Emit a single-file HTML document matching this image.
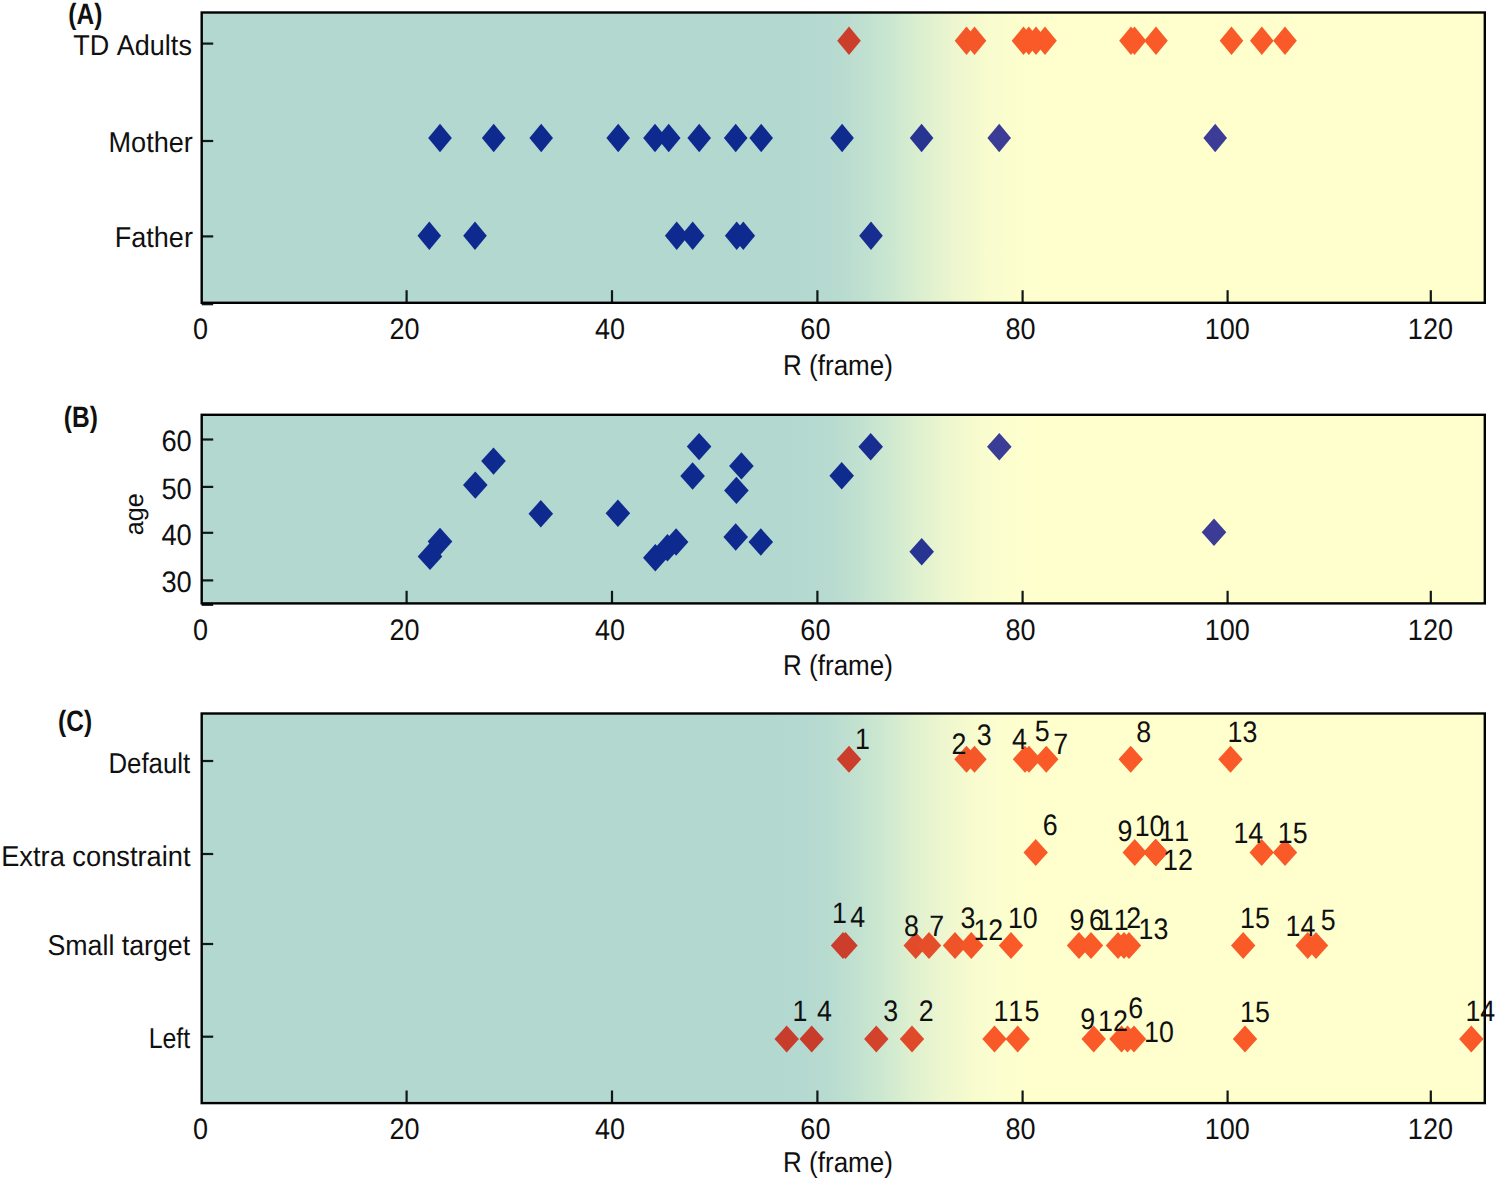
<!DOCTYPE html>
<html lang="en"><head><meta charset="utf-8"><title>Figure</title>
<style>html,body{margin:0;padding:0;background:#fff}body{width:1500px;height:1184px;overflow:hidden}svg{display:block}</style>
</head><body>
<svg width="1500" height="1184" viewBox="0 0 1500 1184" font-family='"Liberation Sans", sans-serif' font-size="26" fill="#101010" style="font-kerning:none;text-rendering:geometricPrecision">
<defs><linearGradient id="bgA" x1="0" y1="0" x2="1" y2="0"><stop offset="0.4468" stop-color="rgb(178, 216, 208)"/><stop offset="0.4780" stop-color="rgb(180, 217, 208)"/><stop offset="0.4975" stop-color="rgb(184, 219, 208)"/><stop offset="0.5170" stop-color="rgb(192, 224, 208)"/><stop offset="0.5403" stop-color="rgb(205, 232, 208)"/><stop offset="0.5637" stop-color="rgb(222, 240, 207)"/><stop offset="0.5871" stop-color="rgb(237, 246, 207)"/><stop offset="0.6105" stop-color="rgb(247, 251, 206)"/><stop offset="0.6339" stop-color="rgb(252, 254, 206)"/><stop offset="0.6572" stop-color="rgb(255, 255, 206)"/></linearGradient><linearGradient id="bgB" x1="0" y1="0" x2="1" y2="0"><stop offset="0.4398" stop-color="rgb(178, 216, 208)"/><stop offset="0.4710" stop-color="rgb(180, 217, 208)"/><stop offset="0.4905" stop-color="rgb(184, 219, 208)"/><stop offset="0.5099" stop-color="rgb(192, 224, 208)"/><stop offset="0.5333" stop-color="rgb(205, 232, 208)"/><stop offset="0.5567" stop-color="rgb(222, 240, 207)"/><stop offset="0.5801" stop-color="rgb(237, 246, 207)"/><stop offset="0.6035" stop-color="rgb(247, 251, 206)"/><stop offset="0.6268" stop-color="rgb(252, 254, 206)"/><stop offset="0.6502" stop-color="rgb(255, 255, 206)"/></linearGradient><linearGradient id="bgC" x1="0" y1="0" x2="1" y2="0"><stop offset="0.4367" stop-color="rgb(178, 216, 208)"/><stop offset="0.4679" stop-color="rgb(180, 217, 208)"/><stop offset="0.4873" stop-color="rgb(184, 219, 208)"/><stop offset="0.5068" stop-color="rgb(192, 224, 208)"/><stop offset="0.5302" stop-color="rgb(205, 232, 208)"/><stop offset="0.5536" stop-color="rgb(222, 240, 207)"/><stop offset="0.5770" stop-color="rgb(237, 246, 207)"/><stop offset="0.6003" stop-color="rgb(247, 251, 206)"/><stop offset="0.6237" stop-color="rgb(252, 254, 206)"/><stop offset="0.6471" stop-color="rgb(255, 255, 206)"/></linearGradient></defs>
<rect x="201.7" y="12.5" width="1283.1" height="290.3" fill="url(#bgA)"/>
<text transform="translate(200.4,338.9) scale(1.04,1.14)" text-anchor="middle">0</text>
<line x1="406.6" y1="302.8" x2="406.6" y2="290.2" stroke="#101818" stroke-width="2.2"/>
<text transform="translate(404.6,338.9) scale(1.04,1.14)" text-anchor="middle">20</text>
<line x1="612.0" y1="302.8" x2="612.0" y2="290.2" stroke="#101818" stroke-width="2.2"/>
<text transform="translate(610.0,338.9) scale(1.04,1.14)" text-anchor="middle">40</text>
<line x1="817.4" y1="302.8" x2="817.4" y2="290.2" stroke="#101818" stroke-width="2.2"/>
<text transform="translate(815.4,338.9) scale(1.04,1.14)" text-anchor="middle">60</text>
<line x1="1022.6" y1="302.8" x2="1022.6" y2="290.2" stroke="#101818" stroke-width="2.2"/>
<text transform="translate(1020.6,338.9) scale(1.04,1.14)" text-anchor="middle">80</text>
<line x1="1227.6" y1="302.8" x2="1227.6" y2="290.2" stroke="#101818" stroke-width="2.2"/>
<text transform="translate(1227.2,338.9) scale(1.04,1.14)" text-anchor="middle">100</text>
<line x1="1430.8" y1="302.8" x2="1430.8" y2="290.2" stroke="#101818" stroke-width="2.2"/>
<text transform="translate(1430.4,338.9) scale(1.04,1.14)" text-anchor="middle">120</text>
<line x1="201.7" y1="43.6" x2="213.2" y2="43.6" stroke="#101818" stroke-width="2.2"/>
<text transform="translate(191.9,55.0) scale(1.039,1.1)" text-anchor="end">TD Adults</text>
<line x1="201.7" y1="141" x2="213.2" y2="141" stroke="#101818" stroke-width="2.2"/>
<text transform="translate(192.9,152.4) scale(1.043,1.1)" text-anchor="end">Mother</text>
<line x1="201.7" y1="236.4" x2="213.2" y2="236.4" stroke="#101818" stroke-width="2.2"/>
<text transform="translate(192.9,247.4) scale(1.04,1.1)" text-anchor="end">Father</text>
<line x1="201.7" y1="304.3" x2="213.2" y2="304.3" stroke="#101818" stroke-width="2"/>
<rect x="201.7" y="12.5" width="1283.1" height="290.3" fill="none" stroke="#000" stroke-width="2.4"/>
<text transform="translate(838.0,374.5) scale(1,1.1)" text-anchor="middle">R (frame)</text>
<text transform="translate(68.3,24.0) scale(1,1.2)" font-weight="bold" font-size="24.5">(A)</text>
<polygon points="849.0,26.6 860.8,40.8 849.0,55.0 837.2,40.8" fill="#cc3e2c"/>
<polygon points="966.5,26.6 978.3,40.8 966.5,55.0 954.7,40.8" fill="#f35629"/>
<polygon points="974.5,26.6 986.3,40.8 974.5,55.0 962.7,40.8" fill="#f55728"/>
<polygon points="1023.5,26.6 1035.3,40.8 1023.5,55.0 1011.7,40.8" fill="#fa5a28"/>
<polygon points="1028.8,26.6 1040.6,40.8 1028.8,55.0 1017.0,40.8" fill="#fa5a28"/>
<polygon points="1036.0,26.6 1047.8,40.8 1036.0,55.0 1024.2,40.8" fill="#fa5a28"/>
<polygon points="1045.0,26.6 1056.8,40.8 1045.0,55.0 1033.2,40.8" fill="#fa5a28"/>
<polygon points="1131.0,26.6 1142.8,40.8 1131.0,55.0 1119.2,40.8" fill="#fa5a28"/>
<polygon points="1134.5,26.6 1146.3,40.8 1134.5,55.0 1122.7,40.8" fill="#fa5a28"/>
<polygon points="1156.0,26.6 1167.8,40.8 1156.0,55.0 1144.2,40.8" fill="#fa5a28"/>
<polygon points="1231.5,26.6 1243.3,40.8 1231.5,55.0 1219.7,40.8" fill="#fa5a28"/>
<polygon points="1261.8,26.6 1273.6,40.8 1261.8,55.0 1250.0,40.8" fill="#fa5a28"/>
<polygon points="1285.0,26.6 1296.8,40.8 1285.0,55.0 1273.2,40.8" fill="#fa5a28"/>
<polygon points="440.0,123.8 451.8,138.0 440.0,152.2 428.2,138.0" fill="#0e2a8e"/>
<polygon points="493.7,123.8 505.5,138.0 493.7,152.2 481.9,138.0" fill="#0e2a8e"/>
<polygon points="541.2,123.8 553.0,138.0 541.2,152.2 529.4,138.0" fill="#0e2a8e"/>
<polygon points="618.2,123.8 630.0,138.0 618.2,152.2 606.4,138.0" fill="#0e2a8e"/>
<polygon points="655.0,123.8 666.8,138.0 655.0,152.2 643.2,138.0" fill="#0e2a8e"/>
<polygon points="668.7,123.8 680.5,138.0 668.7,152.2 656.9,138.0" fill="#0e2a8e"/>
<polygon points="699.2,123.8 711.0,138.0 699.2,152.2 687.4,138.0" fill="#0e2a8e"/>
<polygon points="735.7,123.8 747.5,138.0 735.7,152.2 723.9,138.0" fill="#0e2a8e"/>
<polygon points="761.2,123.8 773.0,138.0 761.2,152.2 749.4,138.0" fill="#0e2a8e"/>
<polygon points="842.1,123.8 853.9,138.0 842.1,152.2 830.3,138.0" fill="#102b8e"/>
<polygon points="921.6,123.8 933.4,138.0 921.6,152.2 909.8,138.0" fill="#273492"/>
<polygon points="999.2,123.8 1011.0,138.0 999.2,152.2 987.4,138.0" fill="#3b3c96"/>
<polygon points="1215.2,123.8 1227.0,138.0 1215.2,152.2 1203.4,138.0" fill="#3c3c96"/>
<polygon points="429.3,221.5 441.1,235.7 429.3,249.9 417.5,235.7" fill="#0e2a8e"/>
<polygon points="475.0,221.5 486.8,235.7 475.0,249.9 463.2,235.7" fill="#0e2a8e"/>
<polygon points="676.7,221.5 688.5,235.7 676.7,249.9 664.9,235.7" fill="#0e2a8e"/>
<polygon points="692.7,221.5 704.5,235.7 692.7,249.9 680.9,235.7" fill="#0e2a8e"/>
<polygon points="736.7,221.5 748.5,235.7 736.7,249.9 724.9,235.7" fill="#0e2a8e"/>
<polygon points="743.3,221.5 755.1,235.7 743.3,249.9 731.5,235.7" fill="#0e2a8e"/>
<polygon points="871.0,221.5 882.8,235.7 871.0,249.9 859.2,235.7" fill="#172d90"/>
<rect x="201.7" y="414.8" width="1283.1" height="188.59999999999997" fill="url(#bgB)"/>
<text transform="translate(200.4,639.5) scale(1.04,1.14)" text-anchor="middle">0</text>
<line x1="406.6" y1="603.4" x2="406.6" y2="590.8" stroke="#101818" stroke-width="2.2"/>
<text transform="translate(404.6,639.5) scale(1.04,1.14)" text-anchor="middle">20</text>
<line x1="612.0" y1="603.4" x2="612.0" y2="590.8" stroke="#101818" stroke-width="2.2"/>
<text transform="translate(610.0,639.5) scale(1.04,1.14)" text-anchor="middle">40</text>
<line x1="817.4" y1="603.4" x2="817.4" y2="590.8" stroke="#101818" stroke-width="2.2"/>
<text transform="translate(815.4,639.5) scale(1.04,1.14)" text-anchor="middle">60</text>
<line x1="1022.6" y1="603.4" x2="1022.6" y2="590.8" stroke="#101818" stroke-width="2.2"/>
<text transform="translate(1020.6,639.5) scale(1.04,1.14)" text-anchor="middle">80</text>
<line x1="1227.6" y1="603.4" x2="1227.6" y2="590.8" stroke="#101818" stroke-width="2.2"/>
<text transform="translate(1227.2,639.5) scale(1.04,1.14)" text-anchor="middle">100</text>
<line x1="1430.8" y1="603.4" x2="1430.8" y2="590.8" stroke="#101818" stroke-width="2.2"/>
<text transform="translate(1430.4,639.5) scale(1.04,1.14)" text-anchor="middle">120</text>
<line x1="201.7" y1="439.5" x2="213.2" y2="439.5" stroke="#101818" stroke-width="2.2"/>
<text transform="translate(191.8,451.0) scale(1.05,1.14)" text-anchor="end">60</text>
<line x1="201.7" y1="486.9" x2="213.2" y2="486.9" stroke="#101818" stroke-width="2.2"/>
<text transform="translate(191.8,498.8) scale(1.05,1.14)" text-anchor="end">50</text>
<line x1="201.7" y1="532.8" x2="213.2" y2="532.8" stroke="#101818" stroke-width="2.2"/>
<text transform="translate(191.8,544.5) scale(1.05,1.14)" text-anchor="end">40</text>
<line x1="201.7" y1="580.4" x2="213.2" y2="580.4" stroke="#101818" stroke-width="2.2"/>
<text transform="translate(191.8,591.6) scale(1.05,1.14)" text-anchor="end">30</text>
<line x1="201.7" y1="604.9" x2="213.2" y2="604.9" stroke="#101818" stroke-width="2"/>
<rect x="201.7" y="414.8" width="1283.1" height="188.59999999999997" fill="none" stroke="#000" stroke-width="2.4"/>
<text transform="translate(838.0,675.0) scale(1,1.1)" text-anchor="middle">R (frame)</text>
<text transform="translate(63.8,426.5) scale(1,1.2)" font-weight="bold" font-size="24.5">(B)</text>
<text transform="translate(143.2,514.3) rotate(-90) scale(0.97,1.0)" text-anchor="middle">age</text>
<polygon points="430.0,542.7 442.3,556.4 430.0,570.1 417.7,556.4" fill="#0e2a8e"/>
<polygon points="440.0,527.8 452.3,541.5 440.0,555.2 427.7,541.5" fill="#0e2a8e"/>
<polygon points="475.3,471.4 487.6,485.1 475.3,498.8 463.0,485.1" fill="#0e2a8e"/>
<polygon points="493.5,447.4 505.8,461.1 493.5,474.8 481.2,461.1" fill="#0e2a8e"/>
<polygon points="540.8,500.1 553.1,513.8 540.8,527.5 528.5,513.8" fill="#0e2a8e"/>
<polygon points="617.9,499.6 630.2,513.3 617.9,527.0 605.6,513.3" fill="#0e2a8e"/>
<polygon points="655.3,544.1 667.6,557.8 655.3,571.5 643.0,557.8" fill="#0e2a8e"/>
<polygon points="667.5,534.1 679.8,547.8 667.5,561.5 655.2,547.8" fill="#0e2a8e"/>
<polygon points="676.1,528.3 688.4,542.0 676.1,555.7 663.8,542.0" fill="#0e2a8e"/>
<polygon points="692.6,462.3 704.9,476.0 692.6,489.7 680.3,476.0" fill="#0e2a8e"/>
<polygon points="699.1,432.9 711.4,446.6 699.1,460.3 686.8,446.6" fill="#0e2a8e"/>
<polygon points="741.4,452.2 753.7,465.9 741.4,479.6 729.1,465.9" fill="#0e2a8e"/>
<polygon points="736.4,476.7 748.7,490.4 736.4,504.1 724.1,490.4" fill="#0e2a8e"/>
<polygon points="735.7,523.3 748.0,537.0 735.7,550.7 723.4,537.0" fill="#0e2a8e"/>
<polygon points="760.8,528.3 773.1,542.0 760.8,555.7 748.5,542.0" fill="#0e2a8e"/>
<polygon points="841.7,462.0 854.0,475.7 841.7,489.4 829.4,475.7" fill="#102b8e"/>
<polygon points="870.7,433.0 883.0,446.7 870.7,460.4 858.4,446.7" fill="#172d90"/>
<polygon points="921.7,538.0 934.0,551.7 921.7,565.4 909.4,551.7" fill="#273492"/>
<polygon points="999.3,433.0 1011.6,446.7 999.3,460.4 987.0,446.7" fill="#3b3c96"/>
<polygon points="1214.0,518.6 1226.3,532.3 1214.0,546.0 1201.7,532.3" fill="#3c3c96"/>
<rect x="201.7" y="713.5" width="1283.1" height="389.5999999999999" fill="url(#bgC)"/>
<text transform="translate(200.4,1139.1) scale(1.04,1.14)" text-anchor="middle">0</text>
<line x1="406.6" y1="1103.1" x2="406.6" y2="1090.5" stroke="#101818" stroke-width="2.2"/>
<text transform="translate(404.6,1139.1) scale(1.04,1.14)" text-anchor="middle">20</text>
<line x1="612.0" y1="1103.1" x2="612.0" y2="1090.5" stroke="#101818" stroke-width="2.2"/>
<text transform="translate(610.0,1139.1) scale(1.04,1.14)" text-anchor="middle">40</text>
<line x1="817.4" y1="1103.1" x2="817.4" y2="1090.5" stroke="#101818" stroke-width="2.2"/>
<text transform="translate(815.4,1139.1) scale(1.04,1.14)" text-anchor="middle">60</text>
<line x1="1022.6" y1="1103.1" x2="1022.6" y2="1090.5" stroke="#101818" stroke-width="2.2"/>
<text transform="translate(1020.6,1139.1) scale(1.04,1.14)" text-anchor="middle">80</text>
<line x1="1227.6" y1="1103.1" x2="1227.6" y2="1090.5" stroke="#101818" stroke-width="2.2"/>
<text transform="translate(1227.2,1139.1) scale(1.04,1.14)" text-anchor="middle">100</text>
<line x1="1430.8" y1="1103.1" x2="1430.8" y2="1090.5" stroke="#101818" stroke-width="2.2"/>
<text transform="translate(1430.4,1139.1) scale(1.04,1.14)" text-anchor="middle">120</text>
<line x1="201.7" y1="761" x2="213.2" y2="761" stroke="#101818" stroke-width="2.2"/>
<text transform="translate(190.2,772.7) scale(0.992,1.1)" text-anchor="end">Default</text>
<line x1="201.7" y1="854" x2="213.2" y2="854" stroke="#101818" stroke-width="2.2"/>
<text transform="translate(190.5,865.5) scale(1.048,1.1)" text-anchor="end">Extra constraint</text>
<line x1="201.7" y1="944" x2="213.2" y2="944" stroke="#101818" stroke-width="2.2"/>
<text transform="translate(190.2,954.7) scale(1.029,1.1)" text-anchor="end">Small target</text>
<line x1="201.7" y1="1036.7" x2="213.2" y2="1036.7" stroke="#101818" stroke-width="2.2"/>
<text transform="translate(190.2,1048.3) scale(0.958,1.1)" text-anchor="end">Left</text>
<rect x="201.7" y="713.5" width="1283.1" height="389.5999999999999" fill="none" stroke="#000" stroke-width="2.4"/>
<text transform="translate(838.0,1172.3) scale(1,1.1)" text-anchor="middle">R (frame)</text>
<text transform="translate(58.1,731.0) scale(1,1.2)" font-weight="bold" font-size="24.5">(C)</text>
<polygon points="849.0,745.8 861.2,759.3 849.0,772.8 836.8,759.3" fill="#cc3e2c"/>
<polygon points="966.5,745.8 978.7,759.3 966.5,772.8 954.3,759.3" fill="#f35629"/>
<polygon points="974.5,745.8 986.7,759.3 974.5,772.8 962.3,759.3" fill="#f55728"/>
<polygon points="1025.0,745.8 1037.2,759.3 1025.0,772.8 1012.8,759.3" fill="#fa5a28"/>
<polygon points="1029.0,745.8 1041.2,759.3 1029.0,772.8 1016.8,759.3" fill="#fa5a28"/>
<polygon points="1046.3,745.8 1058.5,759.3 1046.3,772.8 1034.1,759.3" fill="#fa5a28"/>
<polygon points="1130.7,745.8 1142.9,759.3 1130.7,772.8 1118.5,759.3" fill="#fa5a28"/>
<polygon points="1230.5,745.8 1242.7,759.3 1230.5,772.8 1218.3,759.3" fill="#fa5a28"/>
<polygon points="1035.7,838.9 1047.9,852.4 1035.7,865.9 1023.5,852.4" fill="#fa5a28"/>
<polygon points="1134.7,838.9 1146.9,852.4 1134.7,865.9 1122.5,852.4" fill="#fa5a28"/>
<polygon points="1155.4,838.9 1167.6,852.4 1155.4,865.9 1143.2,852.4" fill="#fa5a28"/>
<polygon points="1155.7,838.9 1167.9,852.4 1155.7,865.9 1143.5,852.4" fill="#fa5a28"/>
<polygon points="1156.0,838.9 1168.2,852.4 1156.0,865.9 1143.8,852.4" fill="#fa5a28"/>
<polygon points="1261.7,838.9 1273.9,852.4 1261.7,865.9 1249.5,852.4" fill="#fa5a28"/>
<polygon points="1285.0,838.9 1297.2,852.4 1285.0,865.9 1272.8,852.4" fill="#fa5a28"/>
<polygon points="843.0,932.1 855.2,945.6 843.0,959.1 830.8,945.6" fill="#cb3e2c"/>
<polygon points="845.5,932.1 857.7,945.6 845.5,959.1 833.3,945.6" fill="#cb3e2c"/>
<polygon points="915.7,932.1 927.9,945.6 915.7,959.1 903.5,945.6" fill="#e14b2a"/>
<polygon points="929.0,932.1 941.2,945.6 929.0,959.1 916.8,945.6" fill="#e64e2a"/>
<polygon points="955.0,932.1 967.2,945.6 955.0,959.1 942.8,945.6" fill="#ef5429"/>
<polygon points="971.3,932.1 983.5,945.6 971.3,959.1 959.1,945.6" fill="#f45628"/>
<polygon points="1011.0,932.1 1023.2,945.6 1011.0,959.1 998.8,945.6" fill="#fa5a28"/>
<polygon points="1079.0,932.1 1091.2,945.6 1079.0,959.1 1066.8,945.6" fill="#fa5a28"/>
<polygon points="1091.0,932.1 1103.2,945.6 1091.0,959.1 1078.8,945.6" fill="#fa5a28"/>
<polygon points="1118.0,932.1 1130.2,945.6 1118.0,959.1 1105.8,945.6" fill="#fa5a28"/>
<polygon points="1124.0,932.1 1136.2,945.6 1124.0,959.1 1111.8,945.6" fill="#fa5a28"/>
<polygon points="1129.0,932.1 1141.2,945.6 1129.0,959.1 1116.8,945.6" fill="#fa5a28"/>
<polygon points="1243.2,932.1 1255.4,945.6 1243.2,959.1 1231.0,945.6" fill="#fa5a28"/>
<polygon points="1307.7,932.1 1319.9,945.6 1307.7,959.1 1295.5,945.6" fill="#fa5a28"/>
<polygon points="1316.0,932.1 1328.2,945.6 1316.0,959.1 1303.8,945.6" fill="#fa5a28"/>
<polygon points="786.7,1025.4 798.9,1038.9 786.7,1052.4 774.5,1038.9" fill="#c83c2c"/>
<polygon points="811.7,1025.4 823.9,1038.9 811.7,1052.4 799.5,1038.9" fill="#c83c2c"/>
<polygon points="876.3,1025.4 888.5,1038.9 876.3,1052.4 864.1,1038.9" fill="#d3432b"/>
<polygon points="912.0,1025.4 924.2,1038.9 912.0,1052.4 899.8,1038.9" fill="#e04a2a"/>
<polygon points="994.5,1025.4 1006.7,1038.9 994.5,1052.4 982.3,1038.9" fill="#f95928"/>
<polygon points="1017.7,1025.4 1029.9,1038.9 1017.7,1052.4 1005.5,1038.9" fill="#fa5a28"/>
<polygon points="1093.7,1025.4 1105.9,1038.9 1093.7,1052.4 1081.5,1038.9" fill="#fa5a28"/>
<polygon points="1121.5,1025.4 1133.7,1038.9 1121.5,1052.4 1109.3,1038.9" fill="#fa5a28"/>
<polygon points="1127.5,1025.4 1139.7,1038.9 1127.5,1052.4 1115.3,1038.9" fill="#fa5a28"/>
<polygon points="1134.0,1025.4 1146.2,1038.9 1134.0,1052.4 1121.8,1038.9" fill="#fa5a28"/>
<polygon points="1245.0,1025.4 1257.2,1038.9 1245.0,1052.4 1232.8,1038.9" fill="#fa5a28"/>
<polygon points="1471.3,1025.4 1483.5,1038.9 1471.3,1052.4 1459.1,1038.9" fill="#fa5a28"/>
<text transform="translate(854.9,749.0) scale(1.03,1.14)">1</text>
<text transform="translate(951.6,753.5) scale(1.03,1.14)">2</text>
<text transform="translate(976.8,745.0) scale(1.03,1.14)">3</text>
<text transform="translate(1012.1,749.0) scale(1.03,1.14)">4</text>
<text transform="translate(1034.8,741.2) scale(1.03,1.14)">5</text>
<text transform="translate(1053.3,753.5) scale(1.03,1.14)">7</text>
<text transform="translate(1136.3,741.5) scale(1.03,1.14)">8</text>
<text transform="translate(1227.6,741.5) scale(1.03,1.14)">13</text>
<text transform="translate(1042.8,834.8) scale(1.03,1.14)">6</text>
<text transform="translate(1117.6,840.8) scale(1.03,1.14)">9</text>
<text transform="translate(1134.7,836.4) scale(1.03,1.14)">10</text>
<text transform="translate(1159.3,840.7) scale(1.03,1.14)">11</text>
<text transform="translate(1163.1,870.0) scale(1.03,1.14)">12</text>
<text transform="translate(1233.4,842.7) scale(1.03,1.14)">14</text>
<text transform="translate(1277.8,842.7) scale(1.03,1.14)">15</text>
<text transform="translate(832.1,923.3) scale(1.03,1.14)">1</text>
<text transform="translate(850.2,927.3) scale(1.03,1.14)">4</text>
<text transform="translate(903.9,936.0) scale(1.03,1.14)">8</text>
<text transform="translate(929.3,936.0) scale(1.03,1.14)">7</text>
<text transform="translate(960.6,927.6) scale(1.03,1.14)">3</text>
<text transform="translate(973.4,940.0) scale(1.03,1.14)">12</text>
<text transform="translate(1007.9,927.5) scale(1.03,1.14)">10</text>
<text transform="translate(1069.6,929.5) scale(1.03,1.14)">9</text>
<text transform="translate(1089.1,929.5) scale(1.03,1.14)">6</text>
<text transform="translate(1098.8,929.5) scale(1.03,1.14)">11</text>
<text transform="translate(1126.3,927.5) scale(1.03,1.14)">2</text>
<text transform="translate(1138.6,938.5) scale(1.03,1.14)">13</text>
<text transform="translate(1240.1,928.0) scale(1.03,1.14)">15</text>
<text transform="translate(1285.6,936.2) scale(1.03,1.14)">14</text>
<text transform="translate(1320.8,930.0) scale(1.03,1.14)">5</text>
<text transform="translate(792.4,1021.0) scale(1.03,1.14)">1</text>
<text transform="translate(817.1,1021.0) scale(1.03,1.14)">4</text>
<text transform="translate(883.3,1021.0) scale(1.03,1.14)">3</text>
<text transform="translate(918.8,1021.0) scale(1.03,1.14)">2</text>
<text transform="translate(993.4,1021.0) scale(1.03,1.14)">11</text>
<text transform="translate(1024.4,1021.0) scale(1.03,1.14)">5</text>
<text transform="translate(1080.2,1029.4) scale(1.03,1.14)">9</text>
<text transform="translate(1098.1,1030.7) scale(1.03,1.14)">12</text>
<text transform="translate(1128.2,1018.3) scale(1.03,1.14)">6</text>
<text transform="translate(1144.1,1041.7) scale(1.03,1.14)">10</text>
<text transform="translate(1240.1,1021.5) scale(1.03,1.14)">15</text>
<text transform="translate(1465.4,1020.7) scale(1.03,1.14)">14</text>
</svg>
</body></html>
